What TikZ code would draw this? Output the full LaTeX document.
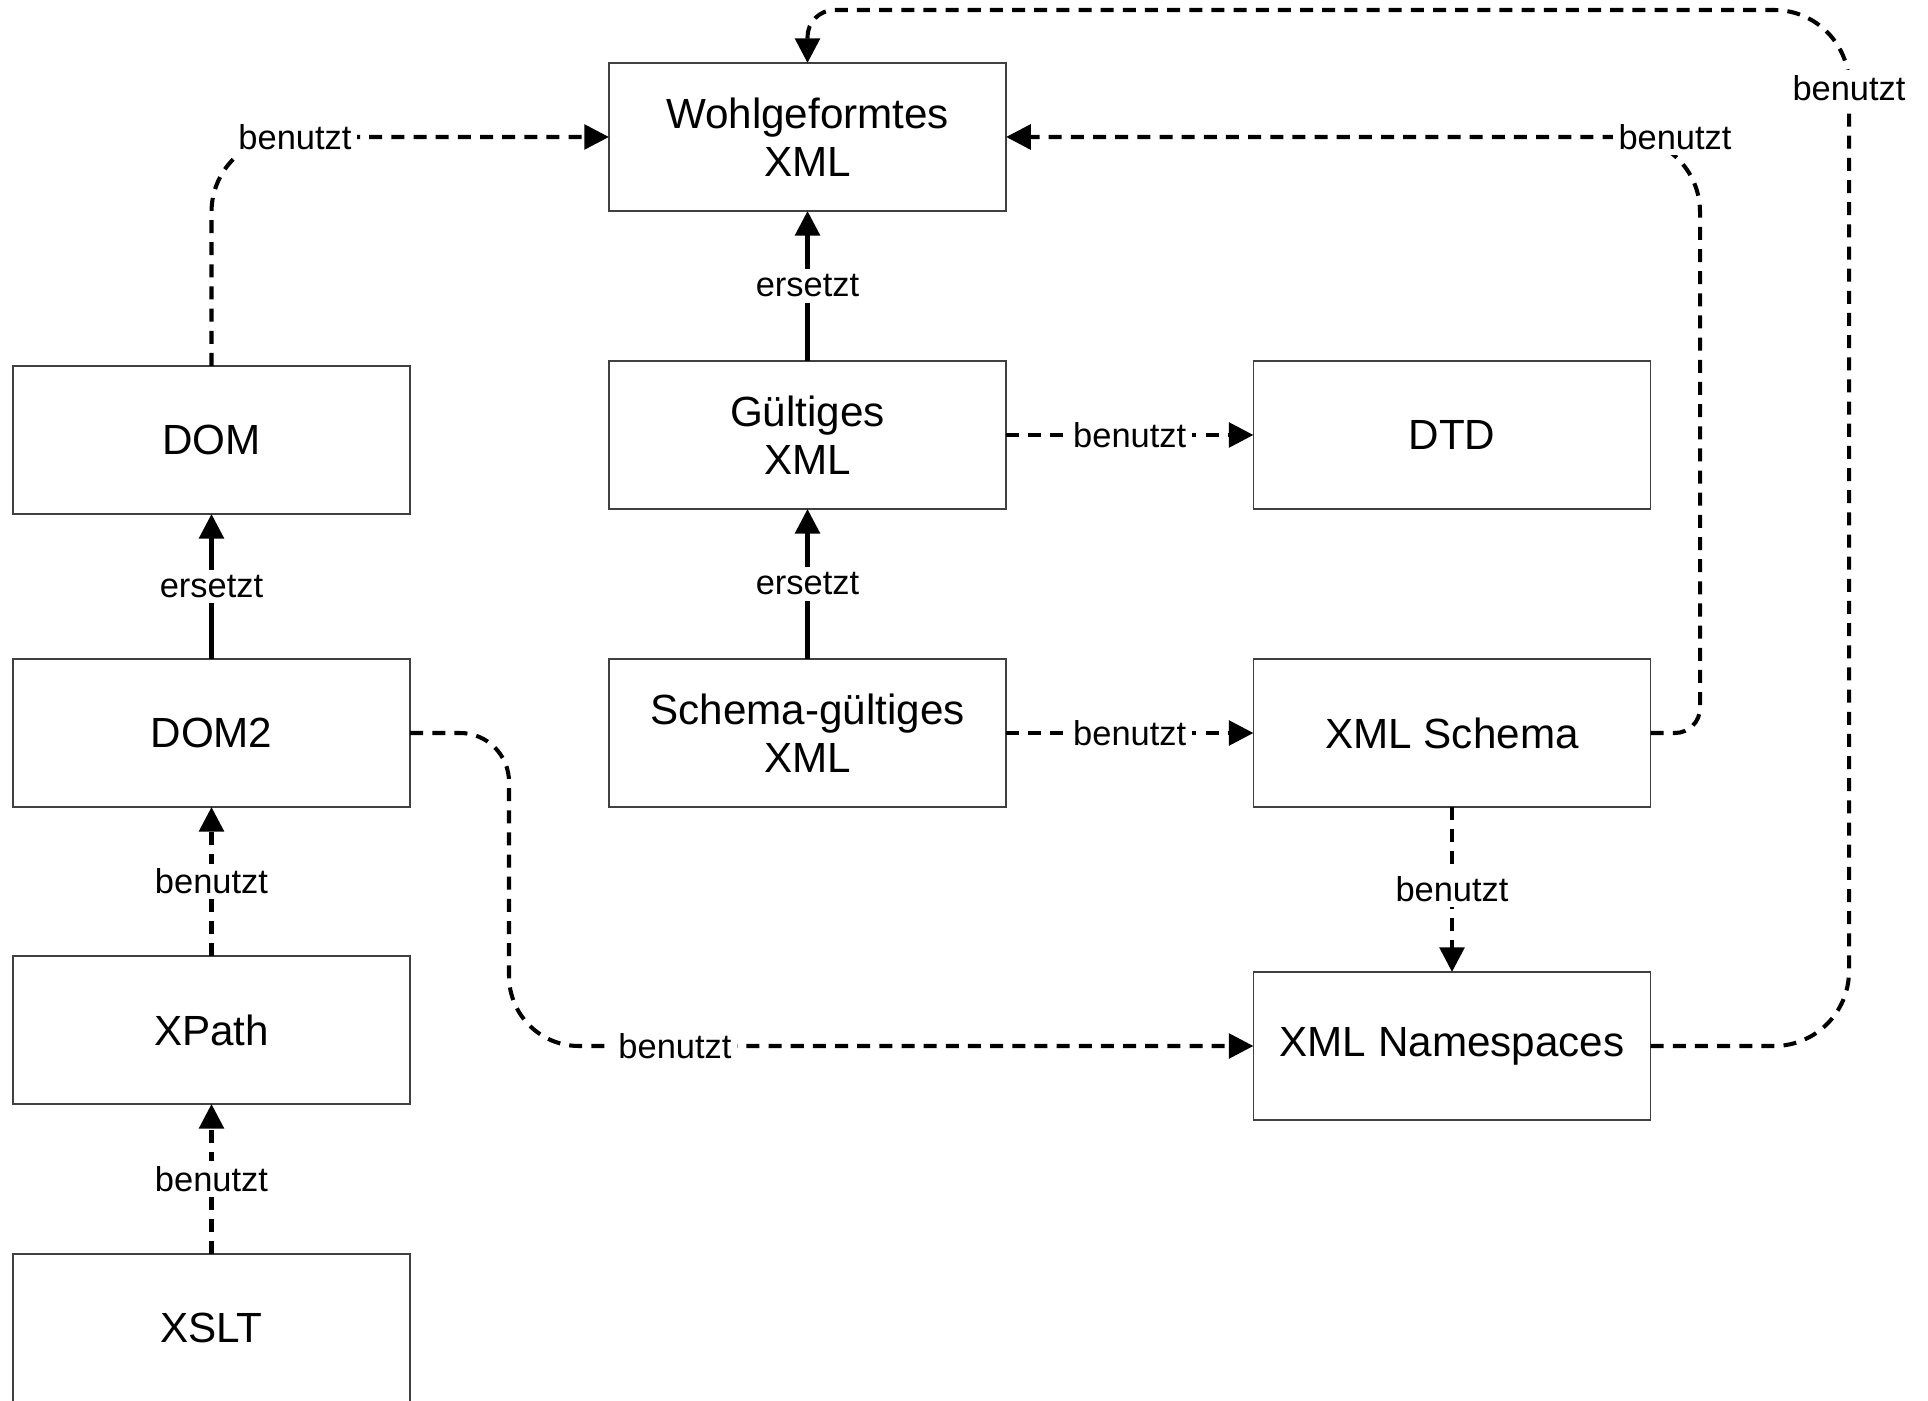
\documentclass[tikz,border=0pt]{standalone}
\usepackage{fontspec}
\setmainfont{Liberation Sans}
\usetikzlibrary{arrows.meta}
\begin{document}
\begin{tikzpicture}[x=0.01cm, y=-0.01cm,
  box/.style={draw=black!75, line width=0.4pt, minimum width=3.97cm, minimum height=1.48cm,
    align=center, inner sep=0pt, outer sep=0pt, font=\fontsize{12}{13.8}\selectfont},
  link/.style={line width=1.15pt, -{Triangle[length=7pt,width=7pt]}},
  uses/.style={link, dash pattern=on 3.7pt off 2.6pt},
  lbl/.style={fill=white, inner sep=1.5pt, font=\fontsize{9.8}{11}\selectfont}]
\useasboundingbox (0,0) rectangle (1928,1401);

% boxes
\node[box] (wohl)  at (807.5,137)  {Wohlgeformtes\\XML};
\node[box] (gxml)  at (807.5,435)  {Gültiges\\XML};
\node[box] (sgxml) at (807.5,733)  {Schema-gültiges\\XML};
\node[box] (dtd)   at (1452,435)   {DTD};
\node[box] (xsd)   at (1452,733)   {XML Schema};
\node[box] (xmlns) at (1452,1046)  {XML Namespaces};
\node[box] (dom)   at (211.5,440)  {DOM};
\node[box] (dom2)  at (211.5,733)  {DOM2};
\node[box] (xpath) at (211.5,1030) {XPath};
\node[box] (xslt)  at (211.5,1328) {XSLT};

% routing coordinates
\coordinate (topy) at (0,10);
\coordinate (farx) at (1849,0);
\coordinate (midx) at (1700,0);
\coordinate (leftx) at (509,0);

% straight connectors
\draw[link] (gxml) -- (wohl) node[lbl, midway] (l1) {ersetzt};
\draw[link] (sgxml) -- (gxml) node[lbl, midway] (l2) {ersetzt};
\draw[link] (dom2) -- (dom) node[lbl, midway] (l3) {ersetzt};
\draw[uses] (xpath) -- (dom2) node[lbl, midway] (l4) {benutzt};
\draw[uses] (xslt) -- (xpath) node[lbl, midway] (l5) {benutzt};
\draw[uses] (gxml) -- (dtd) node[lbl, midway] (l6) {benutzt};
\draw[uses] (sgxml) -- (xsd) node[lbl, midway] (l7) {benutzt};
\draw[uses] (xsd) -- (xmlns) node[lbl, midway] (l8) {benutzt};

% routed connectors (each corner takes the radius set before its point)
\draw[uses] (dom.north) [rounded corners=0.75cm] -- (dom.north |- wohl.west) -- (wohl.west);
\node[lbl] (l9) at (295,137) {benutzt};

\draw[uses] (xsd.east) [rounded corners=0.25cm] -- (midx |- xsd.east)
  [rounded corners=0.75cm] -- (midx |- wohl.east) -- (wohl.east);
\node[lbl] (l10) at (1675,137) {benutzt};

\draw[uses] (dom2.east) [rounded corners=0.49cm] -- (leftx |- dom2.east)
  [rounded corners=0.7cm] -- (leftx |- xmlns.west) -- (xmlns.west);
\node[lbl] (l11) at (675,1046) {benutzt};

\draw[uses] (xmlns.east) [rounded corners=0.75cm] -- (farx |- xmlns.east) -- (farx |- topy)
  [rounded corners=0.27cm] -- (wohl.north |- topy) -- (wohl.north);
\node[lbl] (l12) at (1849,88) {benutzt};
\end{tikzpicture}
\end{document}
